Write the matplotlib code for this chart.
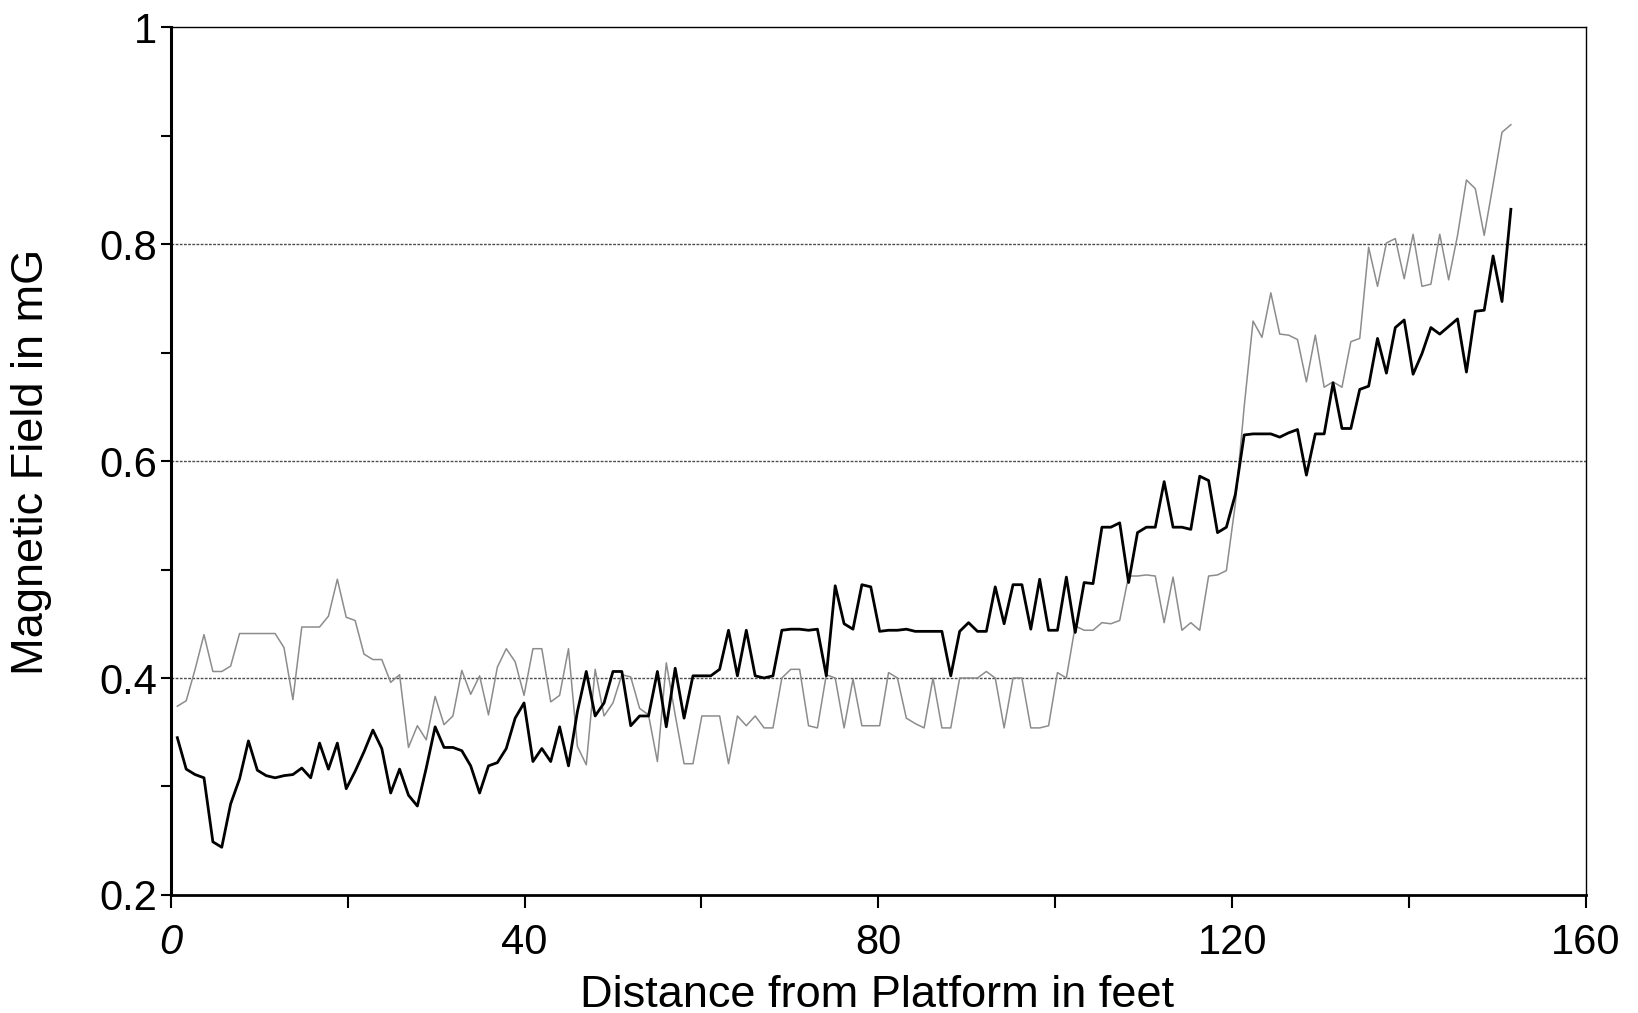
import numpy as np
import matplotlib
matplotlib.use('Agg')
import matplotlib.pyplot as plt
from matplotlib.ticker import FixedLocator, MultipleLocator

# readings were taken about once per foot, 151 of them
distance = np.linspace(0.75, 151.5, 151)

# dark (solid black) trace, mG
field_dark = [
    0.345, 0.316, 0.311, 0.308, 0.249, 0.244, 0.284, 0.307, 0.342, 0.315,
    0.310, 0.308, 0.310, 0.311, 0.317, 0.308, 0.340, 0.316, 0.340, 0.298,
    0.314, 0.332, 0.352, 0.335, 0.294, 0.316, 0.292, 0.282, 0.317, 0.355,
    0.336, 0.336, 0.333, 0.319, 0.294, 0.319, 0.322, 0.335, 0.363, 0.377,
    0.323, 0.335, 0.323, 0.355, 0.319, 0.369, 0.406, 0.365, 0.377, 0.406,
    0.406, 0.356, 0.365, 0.365, 0.406, 0.355, 0.409, 0.363, 0.402, 0.402,
    0.402, 0.408, 0.444, 0.402, 0.444, 0.402, 0.400, 0.402, 0.444, 0.445,
    0.445, 0.444, 0.445, 0.402, 0.485, 0.450, 0.445, 0.486, 0.484, 0.443,
    0.444, 0.444, 0.445, 0.443, 0.443, 0.443, 0.443, 0.402, 0.443, 0.451,
    0.443, 0.443, 0.484, 0.450, 0.486, 0.486, 0.445, 0.491, 0.444, 0.444,
    0.493, 0.442, 0.488, 0.487, 0.539, 0.539, 0.543, 0.488, 0.534, 0.539,
    0.539, 0.581, 0.539, 0.539, 0.537, 0.586, 0.582, 0.534, 0.539, 0.569,
    0.624, 0.625, 0.625, 0.625, 0.622, 0.626, 0.629, 0.587, 0.625, 0.625,
    0.672, 0.630, 0.630, 0.666, 0.669, 0.713, 0.681, 0.723, 0.730, 0.680,
    0.699, 0.723, 0.717, 0.724, 0.731, 0.682, 0.738, 0.739, 0.789, 0.747,
    0.832,
]

# light (grey) trace, mG
field_light = [
    0.374, 0.379, 0.408, 0.440, 0.406, 0.406, 0.411, 0.441, 0.441, 0.441,
    0.441, 0.441, 0.428, 0.380, 0.447, 0.447, 0.447, 0.457, 0.491, 0.456,
    0.453, 0.422, 0.417, 0.417, 0.396, 0.403, 0.336, 0.356, 0.343, 0.383,
    0.357, 0.365, 0.407, 0.385, 0.402, 0.366, 0.410, 0.427, 0.415, 0.384,
    0.427, 0.427, 0.378, 0.384, 0.427, 0.337, 0.320, 0.408, 0.365, 0.377,
    0.403, 0.401, 0.372, 0.366, 0.323, 0.414, 0.366, 0.321, 0.321, 0.365,
    0.365, 0.365, 0.321, 0.365, 0.356, 0.365, 0.354, 0.354, 0.400, 0.408,
    0.408, 0.356, 0.354, 0.403, 0.400, 0.354, 0.399, 0.356, 0.356, 0.356,
    0.405, 0.400, 0.363, 0.358, 0.354, 0.400, 0.354, 0.354, 0.400, 0.400,
    0.400, 0.406, 0.400, 0.354, 0.400, 0.400, 0.354, 0.354, 0.356, 0.405,
    0.400, 0.448, 0.444, 0.444, 0.451, 0.450, 0.453, 0.494, 0.494, 0.495,
    0.494, 0.451, 0.493, 0.444, 0.451, 0.444, 0.494, 0.495, 0.499, 0.560,
    0.650, 0.729, 0.714, 0.755, 0.717, 0.716, 0.712, 0.673, 0.716, 0.668,
    0.673, 0.668, 0.710, 0.713, 0.797, 0.761, 0.801, 0.805, 0.768, 0.809,
    0.761, 0.763, 0.809, 0.767, 0.808, 0.859, 0.851, 0.808, 0.855, 0.903,
    0.910,
]

x_ticks = [0, 40, 80, 120, 160]
x_tick_labels = ['0', '40', '80', '120', '160']
y_ticks = [0.2, 0.4, 0.6, 0.8, 1.0]
y_tick_labels = ['0.2', '0.4', '0.6', '0.8', '1']
grid_levels = [0.4, 0.6, 0.8]

plt.rcParams['font.family'] = ['Liberation Sans', 'DejaVu Sans']

fig = plt.figure(figsize=(16.38, 10.13), dpi=100)
ax = fig.add_axes([0.1042, 0.1165, 0.8641, 0.8568])

# dotted reference lines
for level in grid_levels:
    ax.axhline(level, color='0.3', lw=1.0, ls=(0, (2, 1)), zorder=1)

ax.plot(distance, field_light, color='0.55', lw=1.1, zorder=2)
ax.plot(distance, field_dark, color='black', lw=2.0, zorder=3)

ax.set_xlim(0, 160)
ax.set_ylim(0.2, 1.0)

ax.xaxis.set_major_locator(FixedLocator(x_ticks))
ax.xaxis.set_minor_locator(MultipleLocator(20))
ax.set_xticklabels(x_tick_labels)
ax.xaxis.get_ticklabels()[0].set_fontstyle('italic')

ax.yaxis.set_major_locator(FixedLocator(y_ticks))
ax.yaxis.set_minor_locator(MultipleLocator(0.1))
ax.set_yticklabels(y_tick_labels)

ax.tick_params(axis='x', which='both', direction='out', length=9, width=1.5,
               pad=11, labelsize=30)
ax.tick_params(axis='y', which='both', direction='out', length=7.5, width=1.5,
               pad=2.5, labelsize=30)

ax.spines['left'].set_linewidth(2.2)
ax.spines['bottom'].set_linewidth(2.0)
ax.spines['top'].set_linewidth(1.0)
ax.spines['right'].set_linewidth(1.0)

ax.set_xlabel('Distance from Platform in feet', fontsize=32.5)
ax.set_ylabel('Magnetic Field in mG', fontsize=32.5)
ax.xaxis.set_label_coords(0.499, -0.092)
ax.yaxis.set_label_coords(-0.0838, 0.499)

fig.savefig('out.png', dpi=100)
